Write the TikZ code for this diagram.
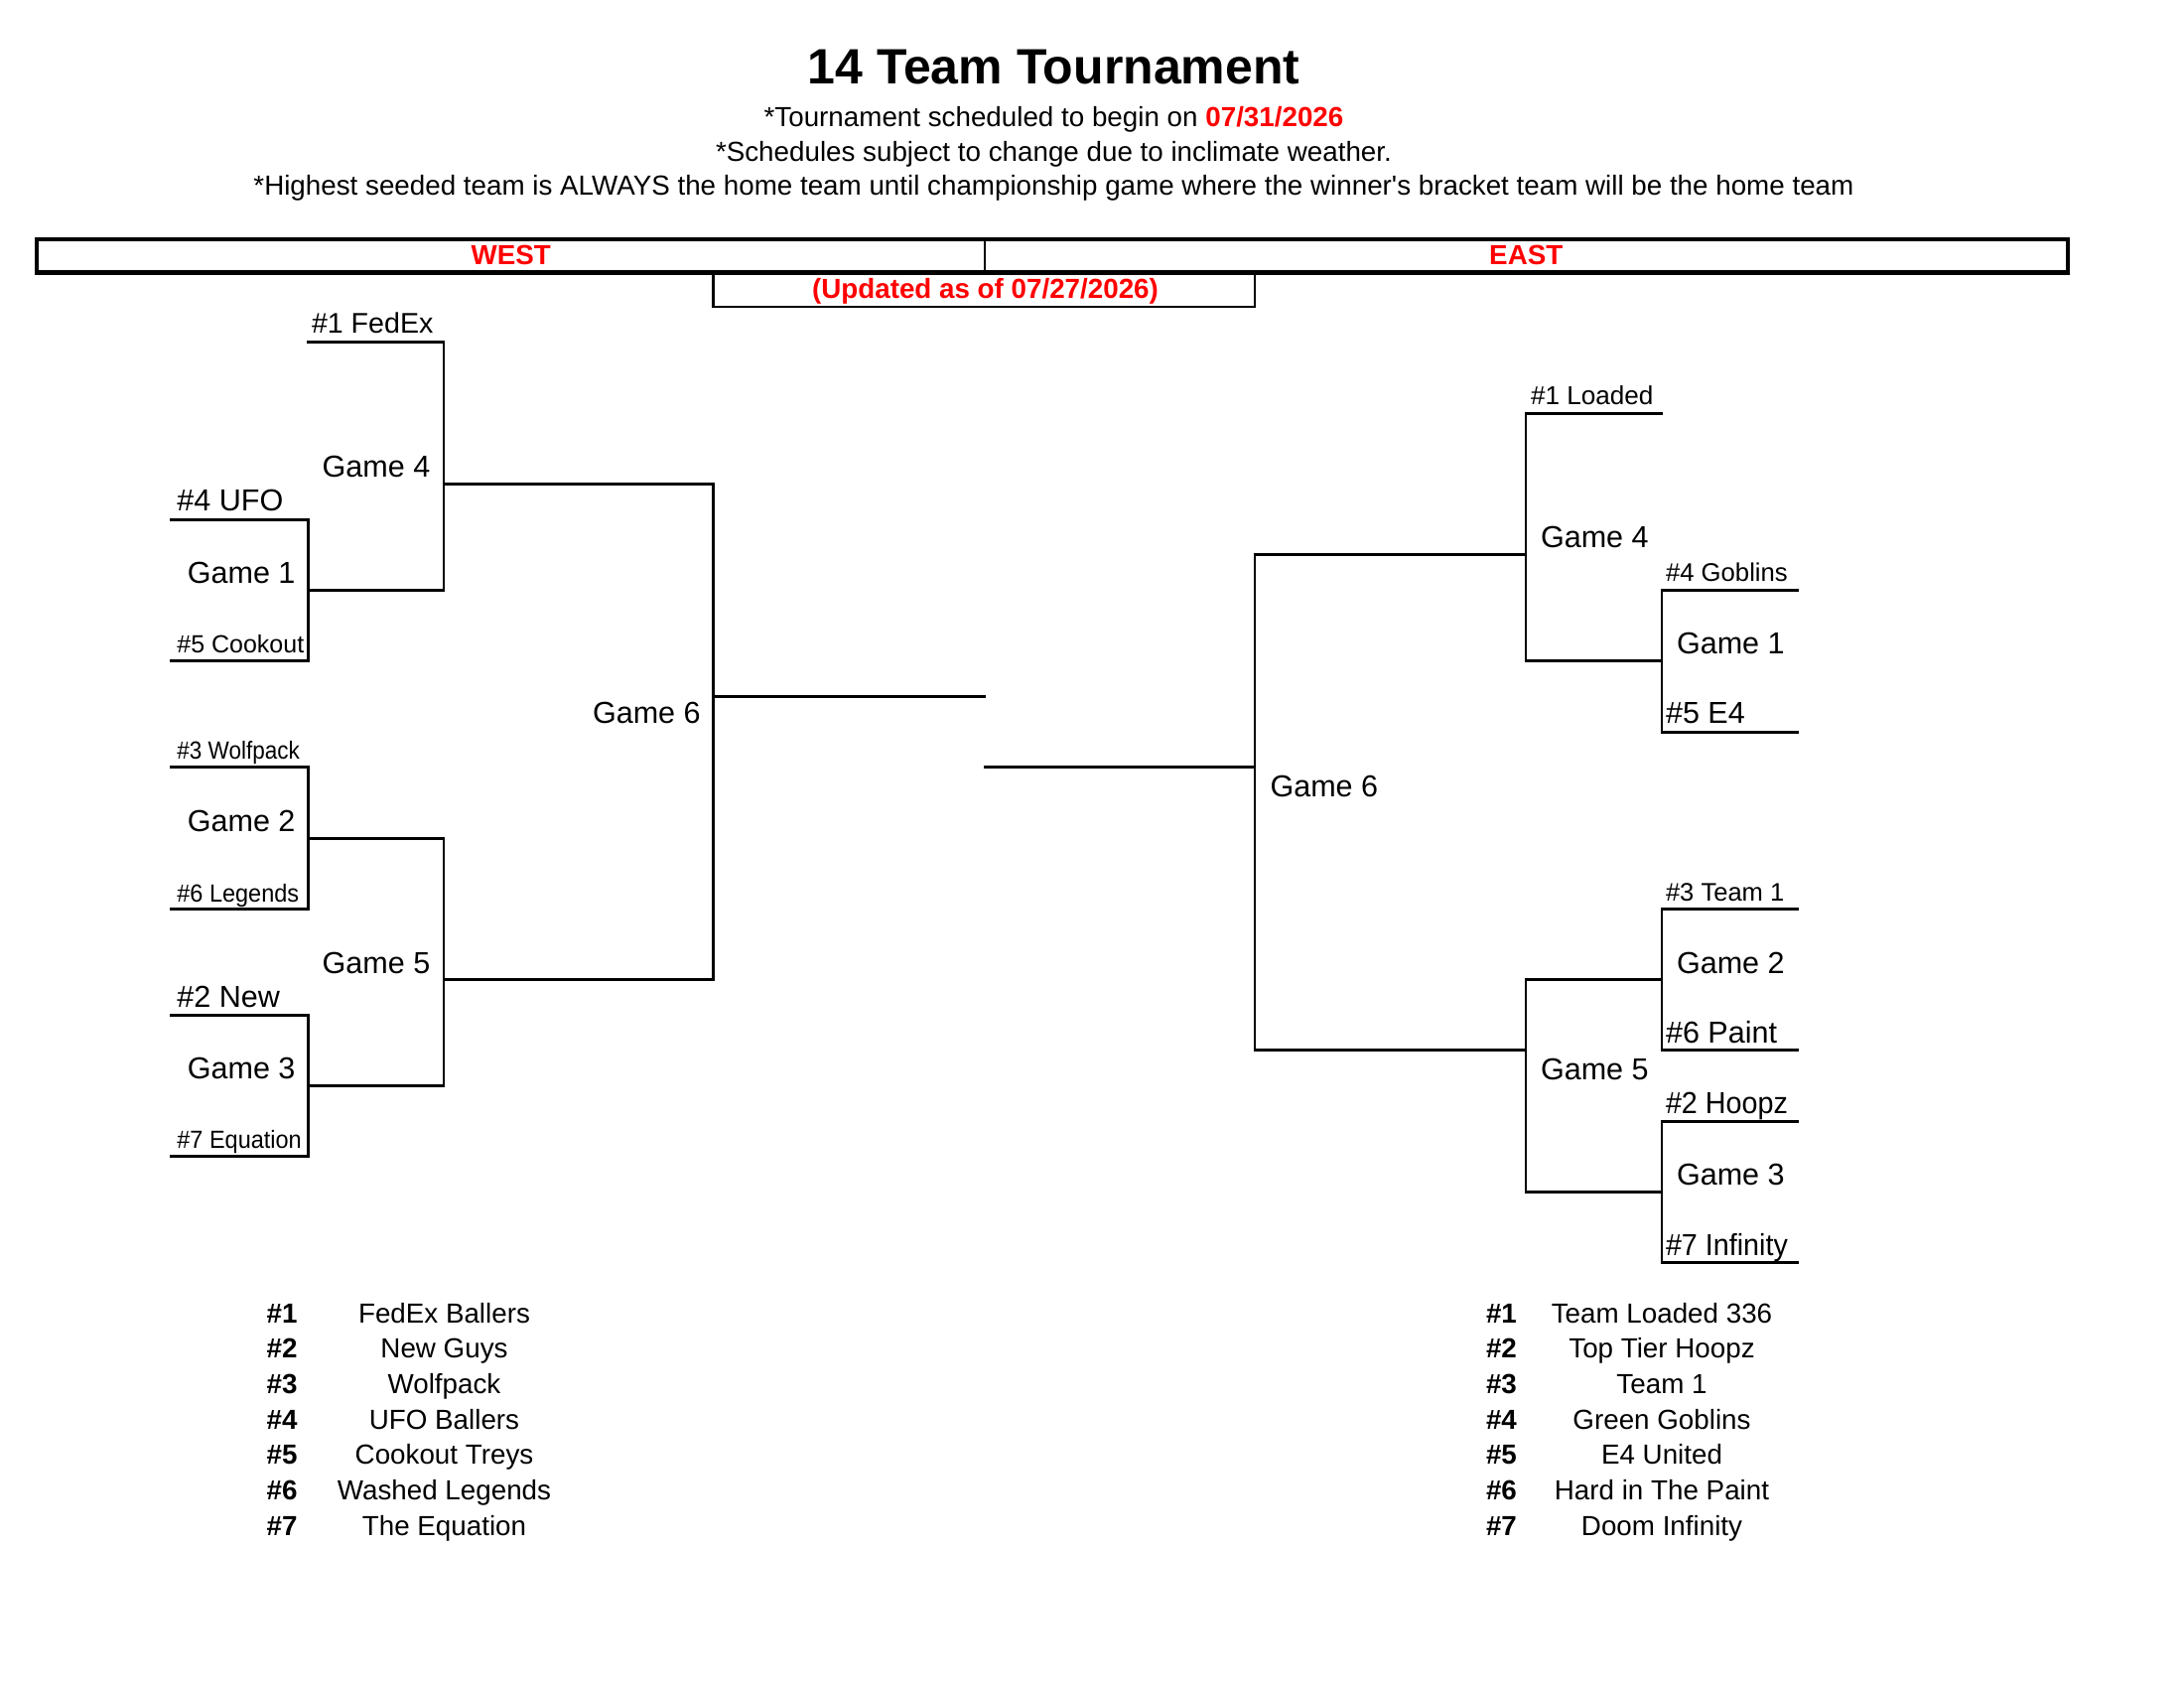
\documentclass[tikz,border=0pt]{standalone}
\usepackage{fontspec}
\setmainfont{Liberation Sans}
\definecolor{xred}{RGB}{255,0,0}
\newcommand\fsz[1]{\fontsize{#1}{#1}\selectfont}
\newcommand\sqz[2]{\scalebox{#1}[1]{#2}}
\begin{document}
\begin{tikzpicture}[x=0.36pt,y=-0.36pt,
  ln/.style={line width=1.05pt, line join=miter, line cap=rect},
  barln/.style={line width=1.45pt, line join=miter},
  tx/.style={inner sep=0pt, outer sep=0pt, anchor=base west},
  ctx/.style={inner sep=0pt, outer sep=0pt, anchor=base},
  game/.style={tx, font=\fsz{11}},
  seedbig/.style={tx, font=\fsz{11}},
  seedsmall/.style={tx, font=\fsz{9}},
  legnum/.style={tx, font=\fsz{10}\bfseries},
  legname/.style={ctx, font=\fsz{10}},
  hdr/.style={ctx, font=\fsz{10}}]
\useasboundingbox (0,0) rectangle (2200,1700);

% ---------- header ----------
\node[ctx, font=\fsz{18}\bfseries] (title) at (1061.5,85) {14 Team Tournament};
\node[hdr] (line1) at (1061.5,128) {*Tournament scheduled to begin on \textcolor{xred}{\bfseries 07/31/2026}};
\node[hdr] (line2) at (1061.5,163) {*Schedules subject to change due to inclimate weather.};
\node[hdr] (line3) at (1061.5,197) {*Highest seeded team is ALWAYS the home team until championship game where the winner\textquotesingle s bracket team will be the home team};

% title bar
\coordinate (barTL) at (37,241);
\coordinate (barBR) at (2082.5,274.5);
\coordinate (divT) at (992,241);
\coordinate (divB) at (992,274.5);
\draw[barln] (barTL) rectangle (barBR);
\draw[line width=1pt] (divT) -- (divB);
\node[ctx, font=\fsz{10}\bfseries, text=xred] (west) at (514.75,266.7) {WEST};
\node[ctx, font=\fsz{10}\bfseries, text=xred] (east) at (1537.25,266.7) {EAST};
\coordinate (updTL) at (718.4,274.5);
\coordinate (updBL) at (718.4,309);
\coordinate (updBR) at (1264,309);
\coordinate (updTR) at (1264,274.5);
\draw[ln] (updTL) -- (updBL) -- (updBR) -- (updTR);
\node[ctx, font=\fsz{10}\bfseries, text=xred] (upd) at (992.5,300.7) {(Updated as of 07/27/2026)};

% ---------- west bracket ----------
\coordinate (w1a) at (310.5,344.95);  \coordinate (w1b) at (447,344.95);
\coordinate (wG1e) at (447,594.5);    \coordinate (wG1s) at (310.5,594.5);
\coordinate (w4a) at (172.7,523.2);   \coordinate (w4b) at (310.5,523.2);
\coordinate (w5b) at (310.5,665.8);   \coordinate (w5a) at (172.7,665.8);
\coordinate (wG4s) at (447,487.55);   \coordinate (wG6t) at (718.6,487.55);
\coordinate (wG6b) at (718.6,986.65); \coordinate (wG5s) at (447,986.65);
\coordinate (wG6m) at (718.6,701.45); \coordinate (wFin) at (992,701.45);
\coordinate (w3a) at (172.7,772.75);  \coordinate (w3b) at (310.5,772.75);
\coordinate (w6b) at (310.5,915.35);  \coordinate (w6a) at (172.7,915.35);
\coordinate (wG2s) at (310.5,844.05); \coordinate (wG2e) at (447,844.05);
\coordinate (wG3e) at (447,1093.6);   \coordinate (wG3s) at (310.5,1093.6);
\coordinate (w2a) at (172.7,1022.3);  \coordinate (w2b) at (310.5,1022.3);
\coordinate (w7b) at (310.5,1164.9);  \coordinate (w7a) at (172.7,1164.9);

\draw[ln] (w1a) -- (w1b) -- (wG1e) -- (wG1s);
\draw[ln] (w4a) -- (w4b) -- (w5b) -- (w5a);
\draw[ln] (wG4s) -- (wG6t) -- (wG6b) -- (wG5s);
\draw[ln] (wG6m) -- (wFin);
\draw[ln] (w3a) -- (w3b) -- (w6b) -- (w6a);
\draw[ln] (wG2s) -- (wG2e) -- (wG3e) -- (wG3s);
\draw[ln] (w2a) -- (w2b) -- (w7b) -- (w7a);

\node[tx, font=\fsz{10.3}] (wS1) at (314,335.6) {\#1 FedEx};
\node[game] (wGame4) at (324.7,480.7) {Game 4};
\node[seedbig] (wS4) at (178.4,515) {\#4 UFO};
\node[game] (wGame1) at (188.8,588) {Game 1};
\node[seedsmall] (wS5) at (178.4,658) {\#5 Cookout};
\node[game] (wGame6) at (597,729) {Game 6};
\node[seedsmall] (wS3) at (178.4,765) {\sqz{0.9}{\#3 Wolfpack}};
\node[game] (wGame2) at (188.8,837) {Game 2};
\node[seedsmall] (wS6) at (178.4,908) {\sqz{0.94}{\#6 Legends}};
\node[game] (wGame5) at (324.7,980) {Game 5};
\node[seedbig] (wS2) at (178.4,1014) {\#2 New};
\node[game] (wGame3) at (188.8,1086) {Game 3};
\node[seedsmall] (wS7) at (178.4,1156.6) {\sqz{0.94}{\#7 Equation}};

% ---------- east bracket ----------
\coordinate (eFin) at (992,772.75);   \coordinate (eG6m) at (1264,772.75);
\coordinate (eG4s) at (1537,558.85);  \coordinate (eG6t) at (1264,558.85);
\coordinate (eG6b) at (1264,1057.95); \coordinate (eG5s) at (1537,1057.95);
\coordinate (e1b) at (1674,416.25);   \coordinate (e1a) at (1537,416.25);
\coordinate (eG1e) at (1537,665.8);   \coordinate (eG1s) at (1674,665.8);
\coordinate (e4b) at (1811,594.5);    \coordinate (e4a) at (1674,594.5);
\coordinate (e5a) at (1674,737.1);    \coordinate (e5b) at (1811,737.1);
\coordinate (e3b) at (1811,915.35);   \coordinate (e3a) at (1674,915.35);
\coordinate (e6a) at (1674,1057.95);  \coordinate (e6b) at (1811,1057.95);
\coordinate (eG2s) at (1674,986.65);  \coordinate (eG2e) at (1537,986.65);
\coordinate (eG3e) at (1537,1200.55); \coordinate (eG3s) at (1674,1200.55);
\coordinate (e2b) at (1811,1129.25);  \coordinate (e2a) at (1674,1129.25);
\coordinate (e7a) at (1674,1271.85);  \coordinate (e7b) at (1811,1271.85);

\draw[ln] (eFin) -- (eG6m);
\draw[ln] (eG4s) -- (eG6t) -- (eG6b) -- (eG5s);
\draw[ln] (e1b) -- (e1a) -- (eG1e) -- (eG1s);
\draw[ln] (e4b) -- (e4a) -- (e5a) -- (e5b);
\draw[ln] (e3b) -- (e3a) -- (e6a) -- (e6b);
\draw[ln] (eG2s) -- (eG2e) -- (eG3e) -- (eG3s);
\draw[ln] (e2b) -- (e2a) -- (e7a) -- (e7b);

\node[tx, font=\fsz{9.4}] (eS1) at (1542,408) {\#1 Loaded};
\node[game] (eGame4) at (1552,552) {Game 4};
\node[tx, font=\fsz{9.25}] (eS4) at (1678,586) {\#4 Goblins};
\node[game] (eGame1) at (1689,659) {Game 1};
\node[seedbig] (eS5) at (1678,728.5) {\#5 E4};
\node[game] (eGame6) at (1279.5,802) {Game 6};
\node[tx, font=\fsz{9.2}] (eS3) at (1678,907.5) {\#3 Team 1};
\node[game] (eGame2) at (1689,980) {Game 2};
\node[seedbig] (eS6) at (1678,1050.7) {\#6 Paint};
\node[game] (eGame5) at (1552,1087.7) {Game 5};
\node[seedbig] (eS2) at (1678,1121.7) {\sqz{0.94}{\#2 Hoopz}};
\node[game] (eGame3) at (1689,1193) {Game 3};
\node[seedbig] (eS7) at (1678,1264) {\sqz{0.94}{\#7 Infinity}};

% ---------- legends ----------
\node[legnum] (lwn1) at (268.6,1332) {\#1};   \node[legname] (lwt1) at (447.5,1332) {FedEx Ballers};
\node[legnum] (lwn2) at (268.6,1367.7) {\#2}; \node[legname] (lwt2) at (447.5,1367.7) {New Guys};
\node[legnum] (lwn3) at (268.6,1403.4) {\#3}; \node[legname] (lwt3) at (447.5,1403.4) {Wolfpack};
\node[legnum] (lwn4) at (268.6,1439) {\#4};   \node[legname] (lwt4) at (447.5,1439) {UFO Ballers};
\node[legnum] (lwn5) at (268.6,1474.8) {\#5}; \node[legname] (lwt5) at (447.5,1474.8) {Cookout Treys};
\node[legnum] (lwn6) at (268.6,1510.5) {\#6}; \node[legname] (lwt6) at (447.5,1510.5) {Washed Legends};
\node[legnum] (lwn7) at (268.6,1546) {\#7};   \node[legname] (lwt7) at (447.5,1546) {The Equation};

\node[legnum] (len1) at (1497,1332) {\#1};   \node[legname] (let1) at (1674,1332) {Team Loaded 336};
\node[legnum] (len2) at (1497,1367.7) {\#2}; \node[legname] (let2) at (1674,1367.7) {Top Tier Hoopz};
\node[legnum] (len3) at (1497,1403.4) {\#3}; \node[legname] (let3) at (1674,1403.4) {Team 1};
\node[legnum] (len4) at (1497,1439) {\#4};   \node[legname] (let4) at (1674,1439) {Green Goblins};
\node[legnum] (len5) at (1497,1474.8) {\#5}; \node[legname] (let5) at (1674,1474.8) {E4 United};
\node[legnum] (len6) at (1497,1510.5) {\#6}; \node[legname] (let6) at (1674,1510.5) {Hard in The Paint};
\node[legnum] (len7) at (1497,1546) {\#7};   \node[legname] (let7) at (1674,1546) {Doom Infinity};
\end{tikzpicture}
\end{document}
